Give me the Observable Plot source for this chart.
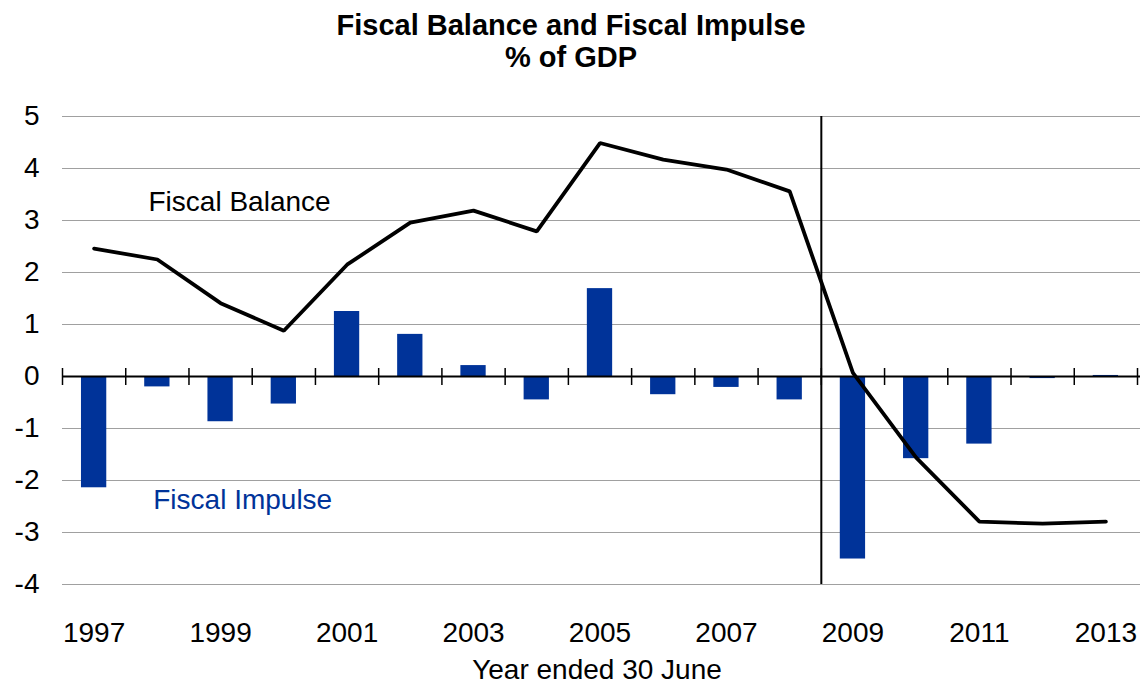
<!DOCTYPE html>
<html>
<head>
<meta charset="utf-8">
<script src="https://cdn.jsdelivr.net/npm/d3@7"></script>
<script src="https://cdn.jsdelivr.net/npm/@observablehq/plot@0.6"></script>
<style>
  body { margin: 0; background: white; font-family: "Liberation Sans", Arial, sans-serif; overflow: hidden; }
  #title { width: 1142px; height: 80px; box-sizing: border-box; padding-top: 9px; text-align: center;
           font-weight: bold; font-size: 29px; line-height: 32px; color: black; }
</style>
</head>
<body>
<div id="title">Fiscal Balance and Fiscal Impulse<br>% of GDP</div>
<div id="chart"></div>
<script>
const years = [1997, 1998, 1999, 2000, 2001, 2002, 2003, 2004, 2005, 2006, 2007, 2008, 2009, 2010, 2011, 2012, 2013];
const fiscalImpulse = [-2.14, -0.20, -0.87, -0.53, 1.25, 0.81, 0.21, -0.45, 1.69, -0.35, -0.21, -0.45, -3.51, -1.58, -1.30, -0.04, 0.02];
const fiscalBalance = [2.46, 2.25, 1.41, 0.88, 2.15, 2.96, 3.19, 2.79, 4.49, 4.17, 3.98, 3.56, 0.07, -1.56, -2.79, -2.83, -2.79];
const xTickYears = [1997, 1999, 2001, 2003, 2005, 2007, 2009, 2011, 2013];
const yTicks = [-4, -3, -2, -1, 0, 1, 2, 3, 4, 5];
const breakYear = 2008.5;
const seriesLabels = ["Fiscal Balance", "Fiscal Impulse"];
const labelYears = [1999.3, 1999.35];
const labelValues = [3.35, -2.37];
const xTitle = "Year ended 30 June";

const data = years.map((year, i) => ({year, impulse: fiscalImpulse[i], balance: fiscalBalance[i]}));
const boundaries = years.map(y => y - 0.5).concat([years[years.length - 1] + 0.5]);
const labels = seriesLabels.map((text, i) => ({text, year: labelYears[i], value: labelValues[i]}));

const blue = "#003399";

const chart = Plot.plot({
  width: 1142,
  height: 604,
  marginTop: 36,
  marginBottom: 100,
  marginLeft: 62,
  marginRight: 5,
  style: {fontFamily: "Liberation Sans, Arial, sans-serif", fontSize: "28px", color: "black", background: "white", overflow: "visible"},
  x: {type: "linear", domain: [years[0] - 0.5, years[years.length - 1] + 0.5], ticks: xTickYears, tickFormat: d => String(d), tickSize: 0, tickPadding: 38, label: null},
  y: {domain: [-4, 5], ticks: yTicks, tickFormat: d => String(d), tickSize: 0, tickPadding: 23, label: null},
  marks: [
    Plot.ruleY(yTicks.filter(d => d !== 0), {stroke: "#a0a0a0", strokeWidth: 1.2, insetRight: -3}),
    Plot.rectY(data, {x1: d => d.year - 0.2, x2: d => d.year + 0.2, y: "impulse", fill: blue}),
    Plot.ruleY([0], {stroke: "black", strokeWidth: 2.2, insetRight: -3}),
    Plot.ruleX(boundaries, {x: d => d, y1: () => 0, y2: () => 0, insetTop: -8, insetBottom: -9, stroke: "black", strokeWidth: 1.5}),
    Plot.ruleX([breakYear], {stroke: "black", strokeWidth: 2}),
    Plot.line(data, {x: "year", y: "balance", stroke: "black", strokeWidth: 3.8, strokeLinejoin: "miter", strokeLinecap: "round"}),
    Plot.text(labels, {x: "year", y: "value", text: "text", fontSize: 28, fill: (d, i) => i === 0 ? "black" : blue}),
    Plot.text([xTitle], {text: d => d, frameAnchor: "bottom", dy: 94, dx: -3, fontSize: 28, fill: "black"})
  ]
});
document.getElementById("chart").appendChild(chart);
</script>
</body>
</html>
